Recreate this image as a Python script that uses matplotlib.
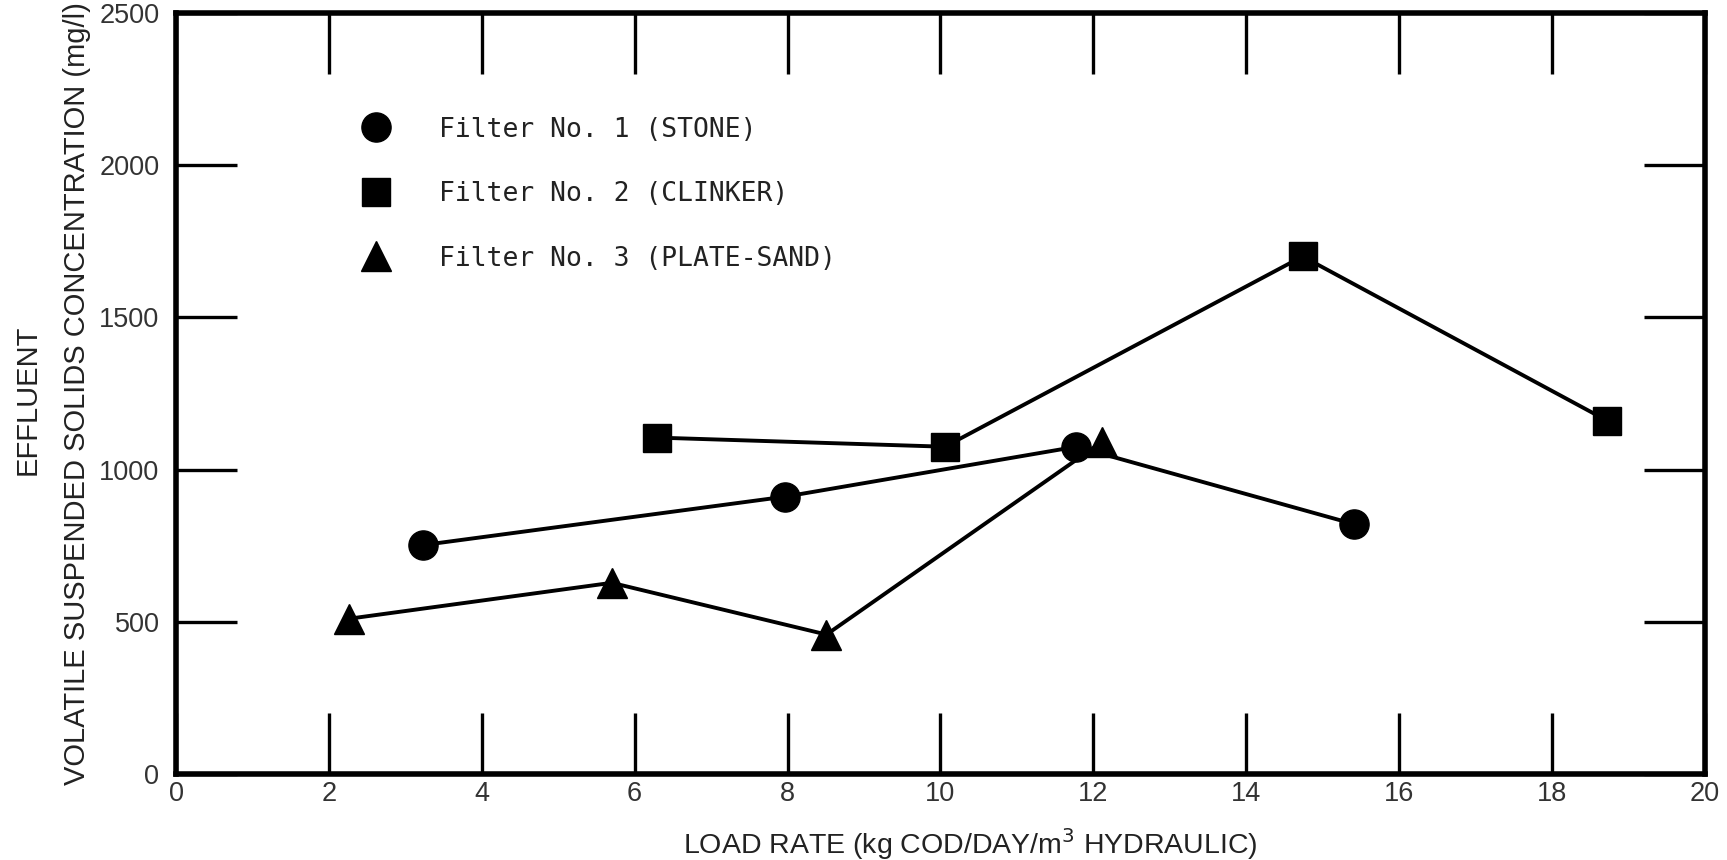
import matplotlib
matplotlib.use("Agg")
import matplotlib.pyplot as plt
from matplotlib.lines import Line2D

# ---- data ----
stone_x = [3.23, 7.97, 11.78, 15.41]
stone_y = [752, 911, 1075, 821]
clinker_x = [6.29, 10.06, 14.74, 18.73]
clinker_y = [1105, 1075, 1700, 1160]
sand_x = [2.26, 5.70, 8.51, 12.11]
sand_y = [510, 628, 458, 1090]

x_ticks = [0, 2, 4, 6, 8, 10, 12, 14, 16, 18, 20]
y_ticks = [0, 500, 1000, 1500, 2000, 2500]
legend_labels = ["Filter No. 1 (STONE)", "Filter No. 2 (CLINKER)", "Filter No. 3 (PLATE-SAND)"]
x_label = "LOAD RATE (kg COD/DAY/m$^3$ HYDRAULIC)"
y_label = "VOLATILE SUSPENDED SOLIDS CONCENTRATION (mg/l)"
y_label2 = "EFFLUENT"

LABEL_FONT = "Liberation Sans"

fig = plt.figure(figsize=(17.27, 8.60), dpi=100)
ax = fig.add_axes([0.102, 0.100, 0.885, 0.885])

lw = 2.8
ax.plot(stone_x, stone_y, color="black", lw=lw, marker="o", ms=21, zorder=3)
ax.plot(clinker_x, clinker_y, color="black", lw=lw, marker="s", ms=20, zorder=3)
ax.plot(sand_x, sand_y, color="black", lw=lw, marker="^", ms=22, zorder=4)

ax.set_xlim(0, 20)
ax.set_ylim(0, 2500)
ax.set_xticks(x_ticks)
ax.set_yticks(y_ticks)

for s in ax.spines.values():
    s.set_linewidth(4)
ax.tick_params(axis="both", which="major", direction="in", length=44, width=2.4,
               top=True, right=True, labelsize=19.5, labelcolor="#333333")
ax.tick_params(axis="x", pad=5)
ax.tick_params(axis="y", pad=12)

for lab in ax.get_xticklabels() + ax.get_yticklabels():
    lab.set_family(LABEL_FONT)

ax.set_xlabel(x_label, fontsize=20.5, family=LABEL_FONT, color="#222222", labelpad=14)
ax.xaxis.set_label_coords(0.5195, -0.068)
ax.set_ylabel(y_label, fontsize=21, family=LABEL_FONT, color="#222222", labelpad=6)
fig.text(0.016, 0.535, y_label2, rotation=90, fontsize=21, family=LABEL_FONT,
         color="#222222", ha="center", va="center")

handles = [
    Line2D([], [], color="black", marker="o", ms=21, ls="none"),
    Line2D([], [], color="black", marker="s", ms=20, ls="none"),
    Line2D([], [], color="black", marker="^", ms=22, ls="none"),
]
leg = ax.legend(handles, legend_labels, loc="upper left", bbox_to_anchor=(0.1066, 0.895),
                frameon=False, handlelength=1.0, handletextpad=1.9, labelspacing=1.46,
                prop={"family": "DejaVu Sans Mono", "size": 19})
for t in leg.get_texts():
    t.set_color("#222222")

fig.savefig("out.png", dpi=100, facecolor="white")
